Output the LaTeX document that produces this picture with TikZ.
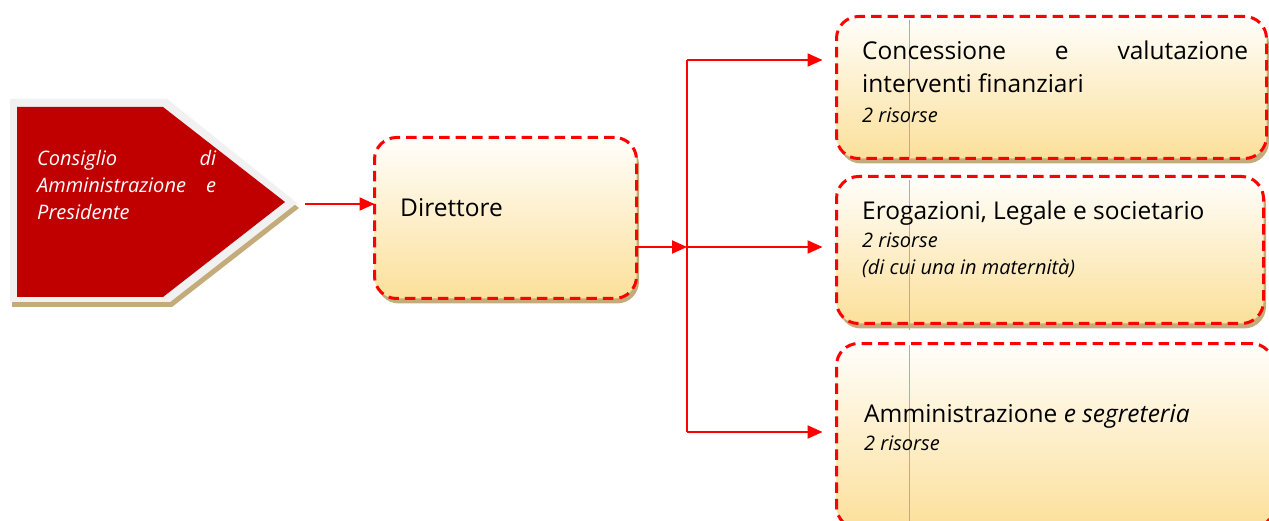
\documentclass[tikz,border=0pt]{standalone}
\usepackage{fontspec}
\setmainfont{Open Sans}
\usetikzlibrary{arrows.meta,shadows}
\definecolor{cdared}{RGB}{192,0,0}
\definecolor{cdagray}{RGB}{241,241,241}
\definecolor{shtan}{RGB}{196,172,122}
\definecolor{boxtop}{RGB}{255,254,251}
\definecolor{boxbot}{RGB}{252,224,154}
\definecolor{flow}{RGB}{255,0,0}
\definecolor{seam}{RGB}{200,170,122}

\begin{document}
\begin{tikzpicture}[x=1pt,y=-1pt,
  unitbox/.style={rectangle, rounded corners=22pt, draw=flow, line width=3pt,
    dash pattern=on 10.5pt off 6pt, top color=boxtop, bottom color=boxbot,
    inner sep=0pt, outer sep=0pt,
    general shadow={shadow xshift=2.5pt, shadow yshift=-5pt, fill=shtan}},
  bigtxt/.style={anchor=base west, inner sep=0pt, font=\fontsize{24.5}{28}\selectfont},
  smalltxt/.style={anchor=base west, inner sep=0pt, font=\fontsize{20}{24}\selectfont\itshape},
  cdatxt/.style={anchor=base west, inner sep=0pt, text=white, font=\fontsize{20}{24}\selectfont\itshape},
  arr/.style={draw=flow, line width=2pt, -{Triangle[length=15pt,width=13pt]}},
  bus/.style={draw=flow, line width=2pt},
  seamline/.style={draw=seam, line width=0.8pt}]

\fill[white] (0,0) rectangle (1269,521);
\useasboundingbox (0,0) rectangle (1269,521);

% board: pentagon with light frame and tan shadow
\fill[shtan] (12,104) -- (169,104) -- (299,208) -- (172,307) -- (12,307) -- cycle;
\fill[cdagray] (10,99) -- (167,99) -- (297,203) -- (170,302) -- (10,302) -- cycle;
\fill[cdared] (17,107) -- (163,107) -- (285,202) -- (163,297) -- (17,297) -- cycle;
\coordinate (cdastart) at (305,204);
\node[cdatxt] (cda1) at (37,166) {\makebox[179pt][s]{Consiglio\hfill di}};
\node[cdatxt] (cda2) at (37,193) {\makebox[179pt][s]{Amministrazione\hfill e}};
\node[cdatxt] (cda3) at (37,220) {Presidente};

% director
\node[unitbox, minimum width=262pt, minimum height=161pt] (dir) at (505.5,218) {};
\node[bigtxt] (dirtxt) at (400,217) {Direttore};

% units
\node[unitbox, minimum width=430pt, minimum height=142pt] (b1) at (1051.5,87.5) {};
\node[unitbox, minimum width=427pt, minimum height=147pt] (b2) at (1050,250) {};
\node[unitbox, minimum width=437pt, minimum height=185pt] (b3) at (1055,436) {};

\draw[seamline] (909,20) -- (909,163);
\draw[seamline] (909,180) -- (909,330);
\draw[seamline] (909,345) -- (909,521);

\node[bigtxt] (b1a) at (862,60) {\makebox[386pt][s]{Concessione\hfill e\hfill valutazione}};
\node[bigtxt] (b1b) at (862,93) {interventi finanziari};
\node[smalltxt] (b1c) at (862,123) {2 risorse};

\node[bigtxt] (b2a) at (862,220) {Erogazioni, Legale e societario};
\node[smalltxt] (b2b) at (862,248) {2 risorse};
\node[smalltxt] (b2c) at (862,275) {(di cui una in maternità)};

\node[bigtxt] (b3a) at (864,422) {Amministrazione \textit{e segreteria}};
\node[smalltxt] (b3b) at (864,450) {2 risorse};

% connectors
\coordinate (j) at (687,247);
\coordinate (jt) at (687,60);
\coordinate (jb) at (687,432);
\draw[arr] (cdastart) -- (cdastart -| dir.west);
\draw[arr] (dir.east |- j) -- (j);
\draw[bus] (jt) -- (jb);
\draw[arr, shorten >=14pt] (jt) -- (jt -| b1.west);
\draw[arr, shorten >=14pt] (j) -- (j -| b2.west);
\draw[arr, shorten >=14pt] (jb) -- (jb -| b3.west);
\end{tikzpicture}
\end{document}
